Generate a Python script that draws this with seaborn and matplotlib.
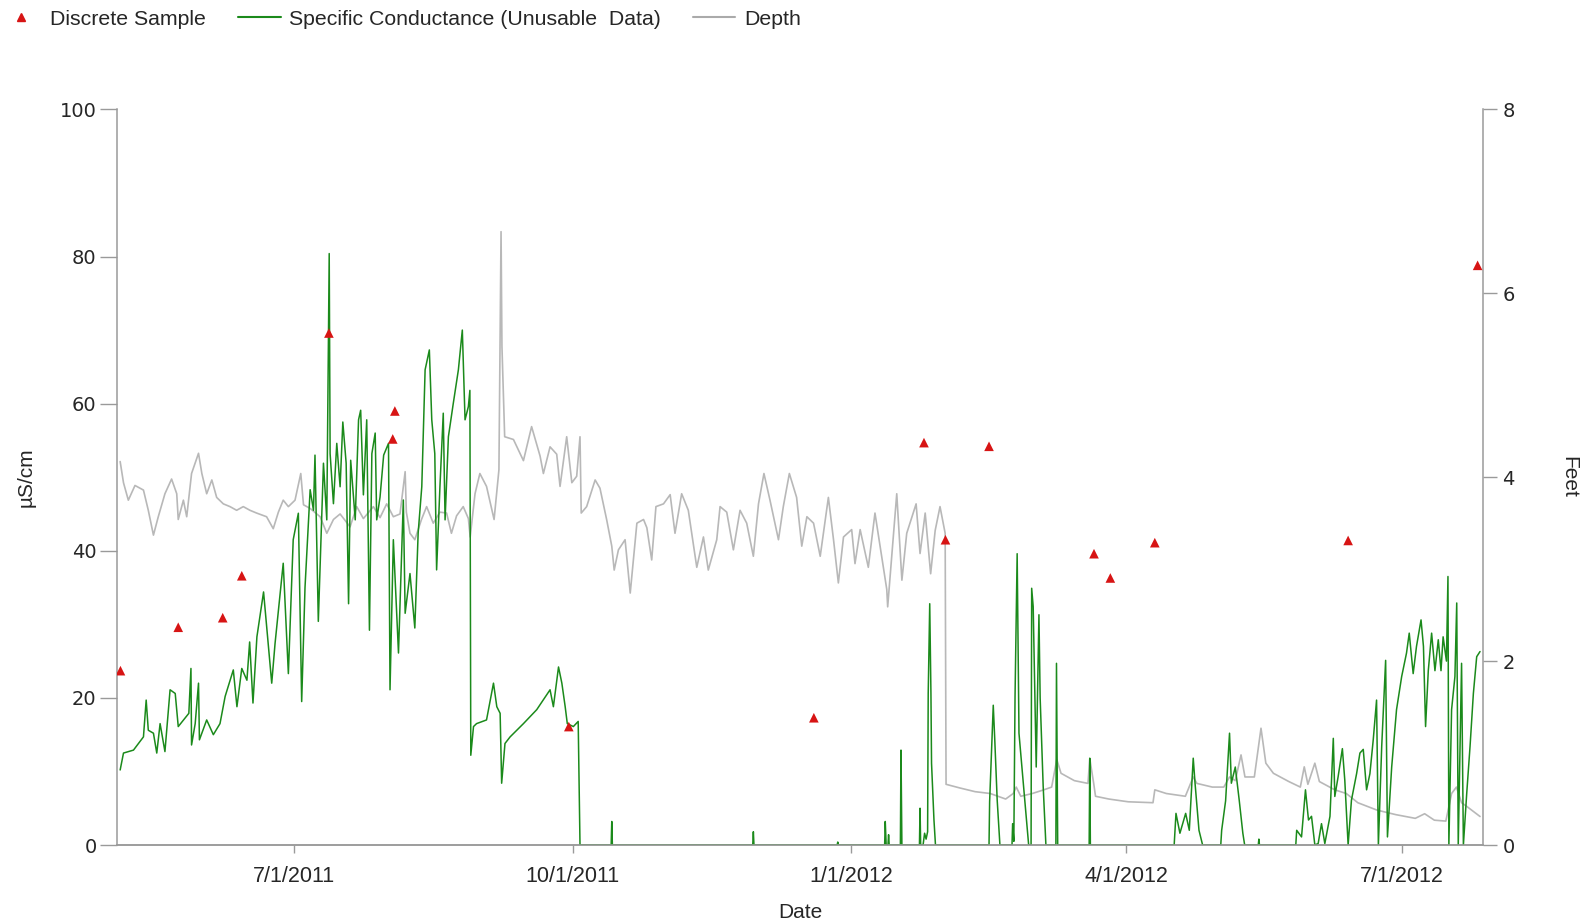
import pandas as pd
import matplotlib.pyplot as plt
import matplotlib.ticker as mticker
import seaborn as sns
from matplotlib.lines import Line2D

# Days counted from 3 May 2011
base_date = pd.Timestamp("2011-05-03")

# Discrete samples (uS/cm)
sample_day = [1.5, 20.6, 35.3, 41.6, 70.4, 91.5, 92.2, 149.7, 230.7, 267.1,
              274.2, 288.6, 323.3, 328.7, 343.4, 407.3, 450.1]
sample_value = [23.7, 29.6, 30.9, 36.6, 69.6, 55.2, 59.0, 16.1, 17.3, 54.7,
                41.5, 54.2, 39.6, 36.3, 41.1, 41.4, 78.8]

# Specific conductance (uS/cm), traced from the record
cond_day = [
    1.4, 2.5, 5.8, 9.1, 10.0, 10.7, 12.4, 13.5, 14.6, 16.2, 17.9, 19.6, 20.6,
    24.1, 24.8, 25.0, 26.2, 27.3, 27.6, 30.0, 32.2, 34.4, 36.1, 38.8, 40.0,
    41.6, 43.3, 44.2, 45.3, 46.6, 48.8, 50.4, 51.5, 52.6, 55.3, 57.0, 58.6,
    60.3, 61.4, 62.5, 64.2, 65.3, 65.8, 66.9, 68.6, 69.7, 70.5, 70.8, 71.9,
    73.0, 74.1, 75.0, 76.1, 76.9, 77.6, 79.1, 80.2, 80.9, 81.8, 82.9, 83.8,
    84.6, 85.7, 86.2, 87.3, 88.5, 90.1, 90.6, 91.7, 93.4, 95.0, 95.6, 97.2,
    98.8, 99.9, 101.1, 102.2, 103.6, 104.4, 105.4, 106.0, 107.1, 108.2, 108.8,
    109.9, 111.5, 113.2, 114.5, 115.4, 116.5, 117.0, 117.3, 118.2, 119.2,
    122.5, 124.8, 125.9, 127.0, 127.5, 128.6, 130.3, 134.7, 139.1, 143.5,
    144.6, 146.3, 147.4, 148.5, 149.2, 151.2, 152.8, 153.4,
    163.7, 163.9, 164.1, 210.5, 210.7, 210.9, 238.4, 238.6, 238.8,
    254.1, 254.3, 254.6, 255.2, 255.4, 255.6, 259.3, 259.5, 259.8,
    265.6, 265.8, 266.0, 266.8, 267.3, 267.8, 268.3, 268.5, 269.0, 269.4,
    269.6, 270.4, 270.9, 288.6, 288.8, 290.0, 290.5, 291.3, 292.2,
    296.2, 296.4, 296.8, 297.2, 297.9, 298.5, 300.0, 301.7, 302.5, 302.7,
    303.2, 304.2, 305.1, 305.5, 306.5, 307.4, 310.7, 310.9, 311.3,
    321.7, 321.9, 322.1, 349.8, 350.4, 351.7, 353.6, 354.8, 356.1, 356.7,
    358.0, 359.2, 365.2, 365.5, 366.8, 368.1, 368.7, 370.0, 371.3, 372.5,
    373.1, 377.6, 377.8, 378.0, 390.0, 390.3, 391.9, 393.2, 394.2, 395.2,
    396.3, 397.4, 398.5, 399.6, 401.3, 402.4, 402.9, 404.0, 405.4, 406.2,
    407.3, 408.4, 410.1, 411.2, 412.3, 413.4, 414.5, 415.6, 416.7, 417.3,
    418.4, 419.7, 420.3, 421.7, 423.3, 425.0, 426.6, 427.5, 428.8, 429.9,
    431.4, 432.2, 432.9, 433.8, 434.9, 436.0, 437.1, 438.0, 438.7, 439.8,
    440.3, 440.6, 441.5, 442.6, 443.2, 443.7, 444.8, 445.4, 446.5, 447.6,
    448.7, 449.8, 450.9,
]
cond_value = [
    10.2, 12.5, 12.9, 14.7, 19.7, 15.6, 15.2, 12.5, 16.5, 12.7, 21.1, 20.6, 16.1,
    17.9, 24.0, 13.6, 16.5, 22.0, 14.3, 17.0, 15.0, 16.5, 20.2, 23.8, 18.8,
    24.0, 22.4, 27.6, 19.3, 28.3, 34.4, 27.0, 22.0, 27.4, 38.3, 23.3, 41.5,
    45.1, 19.5, 35.0, 48.3, 45.5, 53.0, 30.4, 51.9, 44.2, 80.4, 53.2, 46.4,
    54.6, 48.7, 57.5, 51.9, 32.8, 52.3, 44.2, 57.8, 59.1, 47.6, 57.8, 29.2,
    53.2, 56.0, 44.2, 47.3, 53.0, 54.6, 21.1, 41.5, 26.1, 46.9, 31.5, 36.9,
    29.5, 42.4, 48.7, 64.6, 67.3, 57.8, 53.2, 37.4, 48.7, 58.7, 44.2,
    55.5, 60.0, 64.6, 70.0, 57.8, 59.6, 61.8, 12.2, 16.1, 16.5,
    17.0, 22.0, 18.8, 17.9, 8.4, 13.8, 14.7, 16.5, 18.4, 21.1,
    18.8, 24.2, 22.0, 18.8, 16.5, 16.1, 16.8, 0.0,
    0.0, 3.2, 0.0, 0.0, 1.8, 0.0, 0.0, 0.4, 0.0,
    0.0, 3.2, 0.0, 0.0, 1.4, 0.0, 0.0, 12.9, 0.0,
    0.0, 5.0, 0.0, 0.0, 1.6, 0.8, 1.8, 20.6, 32.8, 20.6,
    11.1, 3.4, 0.0, 0.0, 5.9, 19.0, 14.3, 6.1, 0.0,
    0.0, 2.9, 0.5, 20.2, 39.6, 15.2, 8.0, 0.0, 0.0, 34.9,
    32.4, 10.6, 31.3, 20.0, 8.0, 0.0, 0.0, 24.7, 0.0,
    0.0, 11.8, 0.0, 0.0, 4.3, 1.6, 4.3, 2.0, 11.8, 8.4,
    2.0, 0.0, 0.0, 2.0, 6.0, 15.2, 8.4, 10.6, 6.1, 1.6,
    0.0, 0.0, 0.8, 0.0, 0.0, 2.0, 1.1, 7.5, 3.4, 3.9,
    0.0, 0.2, 2.9, 0.2, 3.9, 14.5, 6.6, 9.3, 13.1, 8.8,
    0.0, 6.1, 9.7, 12.5, 13.0, 7.5, 9.7, 14.3, 19.7, 0.0,
    13.4, 25.1, 1.1, 10.6, 18.4, 22.9, 26.1, 28.8, 23.3, 27.0,
    30.6, 27.0, 16.1, 23.7, 28.8, 23.7, 27.9, 23.7, 28.3, 25.0,
    36.5, 0.0, 18.4, 22.9, 32.9, 0.0, 24.7, 0.0, 7.0, 13.4,
    20.6, 25.6, 26.3,
]

# Depth (feet), traced from the record
depth_day = [
    1.4, 2.5, 4.1, 6.3, 9.1, 10.7, 12.4, 14.0, 16.2, 18.4, 20.1, 20.6, 22.3,
    23.4, 25.0, 27.3, 28.4, 30.0, 31.7, 33.3, 35.5, 37.7, 39.9, 42.1, 44.3,
    46.5, 49.8, 52.0, 53.7, 55.3, 57.0, 59.2, 61.1, 62.0, 64.2, 67.5, 69.7,
    71.9, 74.1, 77.4, 79.6, 81.8, 85.1, 87.3, 89.5, 91.7, 93.9, 95.6, 96.0,
    97.2, 98.8, 101.0, 102.7, 104.9, 107.1, 109.3, 110.9, 112.6, 114.8, 116.5,
    117.1, 118.7, 120.3, 122.5, 125.0, 126.6, 127.3, 127.6, 128.5, 131.4,
    134.7, 137.4, 140.2, 141.3, 143.5, 145.7, 146.8, 149.0, 150.7, 152.3,
    153.4, 153.8, 155.6, 158.4, 160.0, 162.2, 163.9, 164.7, 166.1, 168.3,
    170.0, 172.2, 174.4, 175.5, 177.1, 178.5, 181.0, 183.2, 184.8, 187.0,
    189.2, 192.0, 194.2, 195.8, 198.6, 199.7, 201.9, 204.1, 206.3, 208.5,
    210.7, 212.4, 214.2, 216.2, 219.0, 220.6, 222.6, 225.0, 226.7, 228.4,
    230.6, 232.8, 235.5, 237.2, 238.8, 240.5, 243.2, 244.3, 246.0, 248.7,
    250.9, 252.6, 254.8, 255.1, 258.1, 259.8, 261.4, 264.5, 265.8, 267.5,
    269.3, 270.8, 272.4, 274.1, 274.4, 279.0, 284.0, 289.0, 294.1, 296.6,
    297.6, 299.1, 302.9, 306.7, 309.3, 311.0, 312.4, 316.8, 321.3, 321.9,
    323.2, 323.8, 328.2, 334.6, 342.8, 343.4, 347.2, 353.5, 356.1, 357.3,
    362.4, 366.2, 368.1, 370.0, 371.9, 373.2, 376.3, 378.5, 380.1, 382.6,
    387.7, 391.5, 392.8, 394.0, 396.3, 397.8, 402.9, 406.7, 410.5, 416.8,
    423.1, 429.5, 432.6, 435.8, 439.6, 441.5, 443.1, 444.8, 446.5, 448.1,
    450.9,
]
depth_ft = [
    4.17, 3.94, 3.75, 3.91, 3.86, 3.64, 3.37, 3.57, 3.82, 3.98, 3.82, 3.54, 3.75,
    3.57, 4.04, 4.26, 4.04, 3.82, 3.97, 3.78, 3.71, 3.68, 3.64, 3.68, 3.64,
    3.61, 3.57, 3.44, 3.62, 3.75, 3.68, 3.75, 4.04, 3.70, 3.66, 3.57, 3.39,
    3.54, 3.60, 3.46, 3.68, 3.55, 3.68, 3.56, 3.71, 3.57, 3.60, 4.06, 3.62,
    3.39, 3.32, 3.54, 3.68, 3.50, 3.62, 3.61, 3.39, 3.58, 3.68, 3.55,
    3.35, 3.82, 4.04, 3.90, 3.54, 4.08, 6.67, 5.42, 4.44, 4.41,
    4.18, 4.55, 4.23, 4.04, 4.33, 4.25, 3.90, 4.44, 3.94, 4.01,
    4.44, 3.61, 3.68, 3.97, 3.88, 3.54, 3.25, 2.99, 3.21, 3.32,
    2.74, 3.50, 3.54, 3.45, 3.10, 3.68, 3.71, 3.81, 3.39, 3.82,
    3.64, 3.02, 3.35, 2.99, 3.32, 3.68, 3.62, 3.21, 3.64, 3.50,
    3.14, 3.71, 4.04, 3.75, 3.32, 3.68, 4.04, 3.78, 3.25, 3.57,
    3.50, 3.14, 3.78, 3.32, 2.85, 3.35, 3.43, 3.06, 3.43, 3.02,
    3.61, 3.25, 2.78, 2.59, 3.82, 2.88, 3.39, 3.71, 3.17, 3.61,
    2.95, 3.42, 3.68, 3.39, 0.66, 0.62, 0.58, 0.56, 0.50, 0.56,
    0.63, 0.53, 0.56, 0.60, 0.63, 0.93, 0.78, 0.70, 0.67, 0.94,
    0.67, 0.53, 0.50, 0.47, 0.46, 0.60, 0.56, 0.53, 0.74, 0.67,
    0.63, 0.63, 0.74, 0.70, 0.98, 0.74, 0.74, 1.27, 0.89, 0.78,
    0.69, 0.63, 0.85, 0.66, 0.89, 0.69, 0.60, 0.56, 0.46, 0.38,
    0.33, 0.29, 0.34, 0.27, 0.26, 0.56, 0.63, 0.46, 0.42, 0.38,
    0.31,
]

x_ticks = ["2011-07-01", "2011-10-01", "2012-01-01", "2012-04-01", "2012-07-01"]

red = "#d71414"
green = "#1b8a1b"
gray = "#b8b8b8"
axis_gray = "#9a9a9a"

sns.set_style("ticks")
plt.rcParams["font.family"] = ["Liberation Sans", "DejaVu Sans"]


def to_dates(days):
    return base_date + pd.to_timedelta(days, unit="D")


samples = pd.DataFrame({"date": to_dates(sample_day), "value": sample_value})
cond = pd.DataFrame({"date": to_dates(cond_day), "value": cond_value})
depth = pd.DataFrame({"date": to_dates(depth_day), "ft": depth_ft})

fig = plt.figure(figsize=(15.87, 9.23), dpi=100)
ax = fig.add_axes([0.074, 0.0845, 0.8605, 0.797])
ax2 = ax.twinx()

sns.lineplot(data=depth, x="date", y="ft", ax=ax2, color=gray, linewidth=1.2,
             estimator=None, sort=False)
sns.lineplot(data=cond, x="date", y="value", ax=ax, color=green, linewidth=1.1,
             estimator=None, sort=False)
sns.scatterplot(data=samples, x="date", y="value", ax=ax, marker="^", s=48,
                color=red, edgecolor="none", zorder=5)

# keep conductance and samples above depth
ax.set_zorder(ax2.get_zorder() + 1)
ax.patch.set_visible(False)

ax.set_xlim(to_dates([0.5])[0], to_dates([451.9])[0])
ax.set_ylim(0, 100)
ax2.set_ylim(0, 8)
ax.yaxis.set_major_locator(mticker.MultipleLocator(20))
ax2.yaxis.set_major_locator(mticker.MultipleLocator(2))

tick_dates = pd.to_datetime(x_ticks)
ax.set_xticks(tick_dates)
ax.set_xticklabels([f"{d.month}/{d.day}/{d.year}" for d in tick_dates])

for a in (ax, ax2):
    for s in a.spines.values():
        s.set_color(axis_gray)
        s.set_linewidth(1.1)
    a.spines["top"].set_visible(False)
ax.spines["right"].set_visible(False)
ax2.spines["left"].set_visible(False)

ax.tick_params(axis="y", length=12, width=1, color=axis_gray, pad=3, labelsize=14)
ax.tick_params(axis="x", length=6, width=1, color=axis_gray, pad=9, labelsize=15.5)
ax2.tick_params(axis="y", length=10, width=1, color=axis_gray, pad=4, labelsize=14)
for lab in ax.get_yticklabels() + ax2.get_yticklabels():
    lab.set_fontfamily("DejaVu Sans")

ax.set_xlabel("Date", fontsize=15)
ax.set_ylabel("µS/cm", fontsize=15)
ax2.set_ylabel("Feet", fontsize=15, rotation=270, va="center")
ax.xaxis.set_label_coords(0.5, -0.079)
ax.yaxis.set_label_coords(-0.060, 0.5)
ax2.yaxis.set_label_coords(1.063, 0.5)

handles = [
    Line2D([], [], marker="^", linestyle="none", color=red, markersize=6),
    Line2D([], [], color=green, linewidth=1.5),
    Line2D([], [], color="#aaaaaa", linewidth=1.5),
]
labels = ["Discrete Sample", "Specific Conductance (Unusable  Data)", "Depth"]
fig.legend(handles, labels, loc="upper left", bbox_to_anchor=(-0.003, 0.994),
           ncol=3, frameon=False, fontsize=15.3, handlelength=2.0,
           handletextpad=0.4, columnspacing=1.5, borderaxespad=0.0,
           borderpad=0.2)

plt.savefig("out.png", dpi=100)
plt.close()
